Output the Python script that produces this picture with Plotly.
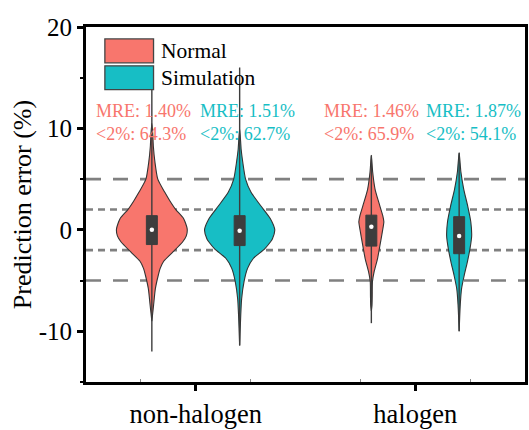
import plotly.graph_objects as go

# ---------------- data ----------------
categories = ["non-halogen", "halogen"]
series = ["Normal", "Simulation"]
colors = {"Normal": "#F8766D", "Simulation": "#17BEC5"}

# violin density profiles: y levels and half widths (x units)
nh_normal_y = [10.5, 9.5, 8.2, 6.7, 5.0, 3.7, 2.9, 2.0, 1.1, 0.1, -0.6, -1.2, -2.2, -3.1, -3.8, -4.5, -5.8, -7.4, -8.2, -9.0]
nh_normal_w = [0, .004, .007, .014, .027, .059, .081, .109, .145, .161, .157, .140, .095, .054, .038, .029, .016, .008, .004, 0]
nh_sim_y = [10.0, 7.9, 6.7, 5.0, 3.7, 2.35, 1.1, 0.0, -0.9, -1.2, -1.9, -2.8, -3.8, -5.1, -6.8, -8.4, -11.4]
nh_sim_w = [0, .007, .014, .027, .052, .097, .140, .160, .149, .140, .113, .063, .036, .020, .009, .005, 0]
h_normal_y = [7.35, 5.7, 4.0, 2.7, 1.4, 0.8, -0.2, -1.55, -2.85, -4.1, -5.1, -6.5, -7.4, -8.0]
h_normal_w = [0, .006, .017, .034, .052, .057, .050, .039, .028, .013, .005, .004, .003, 0]
h_sim_y = [7.6, 5.7, 4.0, 2.35, 0.8, -0.6, -1.9, -3.1, -4.5, -5.8, -7.4, -10.0]
h_sim_w = [0, .008, .021, .039, .053, .057, .049, .038, .023, .011, .005, 0]

# box statistics: q1, median, q3, min, max
box_q1 = {"non-halogen": [-1.45, -1.55], "halogen": [-1.6, -2.35]}
box_med = {"non-halogen": [0.0, -0.1], "halogen": [0.3, -0.6]}
box_q3 = {"non-halogen": [1.4, 1.4], "halogen": [1.45, 1.3]}
box_lo = {"non-halogen": [-12.0, -11.4], "halogen": [-9.2, -10.0]}
box_hi = {"non-halogen": [14.5, 16.0], "halogen": [7.35, 7.6]}

mre = {"non-halogen": ["1.40%", "1.51%"], "halogen": ["1.46%", "1.87%"]}
below2 = {"non-halogen": ["64.3%", "62.7%"], "halogen": ["65.9%", "54.1%"]}

ref_lines_long = [5, -5]
ref_lines_short = [2, -2]

y_ticks = [-10, 0, 10, 20]
y_ticktext = ["-10", "0", "10", "20"]

profiles = {
    ("non-halogen", "Normal"): (nh_normal_y, nh_normal_w),
    ("non-halogen", "Simulation"): (nh_sim_y, nh_sim_w),
    ("halogen", "Normal"): (h_normal_y, h_normal_w),
    ("halogen", "Simulation"): (h_sim_y, h_sim_w),
}

# ---------------- figure ----------------
FONT = "Liberation Serif"
offset = {"Normal": -0.2, "Simulation": 0.2}
BOX_HALF = 0.025
DARK = "#3d3d3d"

fig = go.Figure()

for ci, cat in enumerate(categories):
    for si, s in enumerate(series):
        xc = ci + offset[s]
        ys, ws = profiles[(cat, s)]
        px = [xc + w for w in ws] + [xc - w for w in reversed(ws)]
        py = list(ys) + list(reversed(ys))
        fig.add_trace(go.Scatter(x=px, y=py, mode="lines", fill="toself",
                                 fillcolor=colors[s],
                                 line=dict(color="#333333", width=1.1, shape="spline", smoothing=0.6),
                                 hoverinfo="skip", showlegend=False))

for ci, cat in enumerate(categories):
    for si, s in enumerate(series):
        xc = ci + offset[s]
        # whisker line through the violin
        fig.add_trace(go.Scatter(x=[xc, xc], y=[box_lo[cat][si], box_hi[cat][si]], mode="lines",
                                 line=dict(color=DARK, width=1.4), hoverinfo="skip", showlegend=False))
        q1, q3 = box_q1[cat][si], box_q3[cat][si]
        fig.add_trace(go.Scatter(x=[xc - BOX_HALF, xc + BOX_HALF, xc + BOX_HALF, xc - BOX_HALF, xc - BOX_HALF],
                                 y=[q1, q1, q3, q3, q1], mode="lines", fill="toself",
                                 fillcolor=DARK, line=dict(color=DARK, width=1),
                                 hoverinfo="skip", showlegend=False))
        fig.add_trace(go.Scatter(x=[xc], y=[box_med[cat][si]], mode="markers",
                                 marker=dict(color="white", size=4.5, line=dict(width=0)),
                                 hoverinfo="skip", showlegend=False))

# reference lines
for v in ref_lines_long:
    fig.add_shape(type="line", xref="paper", x0=0, x1=1, yref="y", y0=v, y1=v,
                  line=dict(color="#808080", width=2.6, dash="15px,12px"), layer="below")
for v in ref_lines_short:
    fig.add_shape(type="line", xref="paper", x0=0, x1=1, yref="y", y0=v, y1=v,
                  line=dict(color="#808080", width=2.6, dash="7px,5px"), layer="below")

# MRE annotations
text_x = {("non-halogen", "Normal"): -0.462, ("non-halogen", "Simulation"): 0.009,
          ("halogen", "Normal"): 0.575, ("halogen", "Simulation"): 1.041}
for ci, cat in enumerate(categories):
    for si, s in enumerate(series):
        fig.add_annotation(x=text_x[(cat, s)], y=10.6, xref="x", yref="y",
                           text=f"MRE: {mre[cat][si]}<br>&lt;2%: {below2[cat][si]}",
                           showarrow=False, xanchor="left", yanchor="middle", align="left",
                           font=dict(family=FONT, size=18, color=colors[s]))

# legend drawn as shapes + text (pixel positions converted to paper coords)
W, H = 529, 430
ML, MR, MT, MB = 86, 1, 27, 46
PW, PH = W - ML - MR, H - MT - MB


def px2paper(xp, yp):
    return (xp - ML) / PW, (H - MB - yp) / PH


for i, s in enumerate(series):
    top = 39 + i * 27
    x0, y0 = px2paper(105, top)
    x1, y1 = px2paper(154, top + 24)
    fig.add_shape(type="rect", xref="paper", yref="paper", x0=x0, x1=x1, y0=y1, y1=y0,
                  fillcolor=colors[s], line=dict(color="#444444", width=1.3), layer="above")
    tx, ty = px2paper(160, top + 12)
    fig.add_annotation(x=tx, y=ty, xref="paper", yref="paper", text=s, showarrow=False,
                       xanchor="left", yanchor="middle",
                       font=dict(family=FONT, size=21.5, color="black"))

fig.update_layout(
    width=W, height=H,
    margin=dict(l=ML, r=MR, t=MT, b=MB),
    paper_bgcolor="white", plot_bgcolor="white",
    font=dict(family=FONT, color="black"),
    showlegend=False,
)
fig.update_xaxes(range=[-0.5, 1.5], tickmode="array", tickvals=[0, 1], ticktext=categories,
                 showgrid=False, zeroline=False,
                 showline=True, linecolor="black", linewidth=2.8, mirror=True,
                 ticks="outside", ticklen=6, tickwidth=2.5, tickcolor="black",
                 tickfont=dict(family=FONT, size=26.5, color="black"),
                 minor=dict(tickmode="array", tickvals=[-0.25, 0.25, 0.75, 1.25],
                            ticks="inside", ticklen=3, tickwidth=1, tickcolor="#888888"))
fig.update_yaxes(range=[-15, 20], tickmode="array", tickvals=y_ticks, ticktext=y_ticktext,
                 showgrid=False, zeroline=False,
                 showline=True, linecolor="black", linewidth=2.8, mirror=True,
                 ticks="outside", ticklen=6, tickwidth=2.5, tickcolor="black",
                 tickfont=dict(family=FONT, size=25, color="black"),
                 minor=dict(tickmode="array", tickvals=[-15, -5, 5, 15],
                            ticks="outside", ticklen=3.5, tickwidth=2, tickcolor="black"),
                 title=dict(text="Prediction error (%)", font=dict(family=FONT, size=26, color="black"),
                            standoff=0))

fig.write_html("out.html")
